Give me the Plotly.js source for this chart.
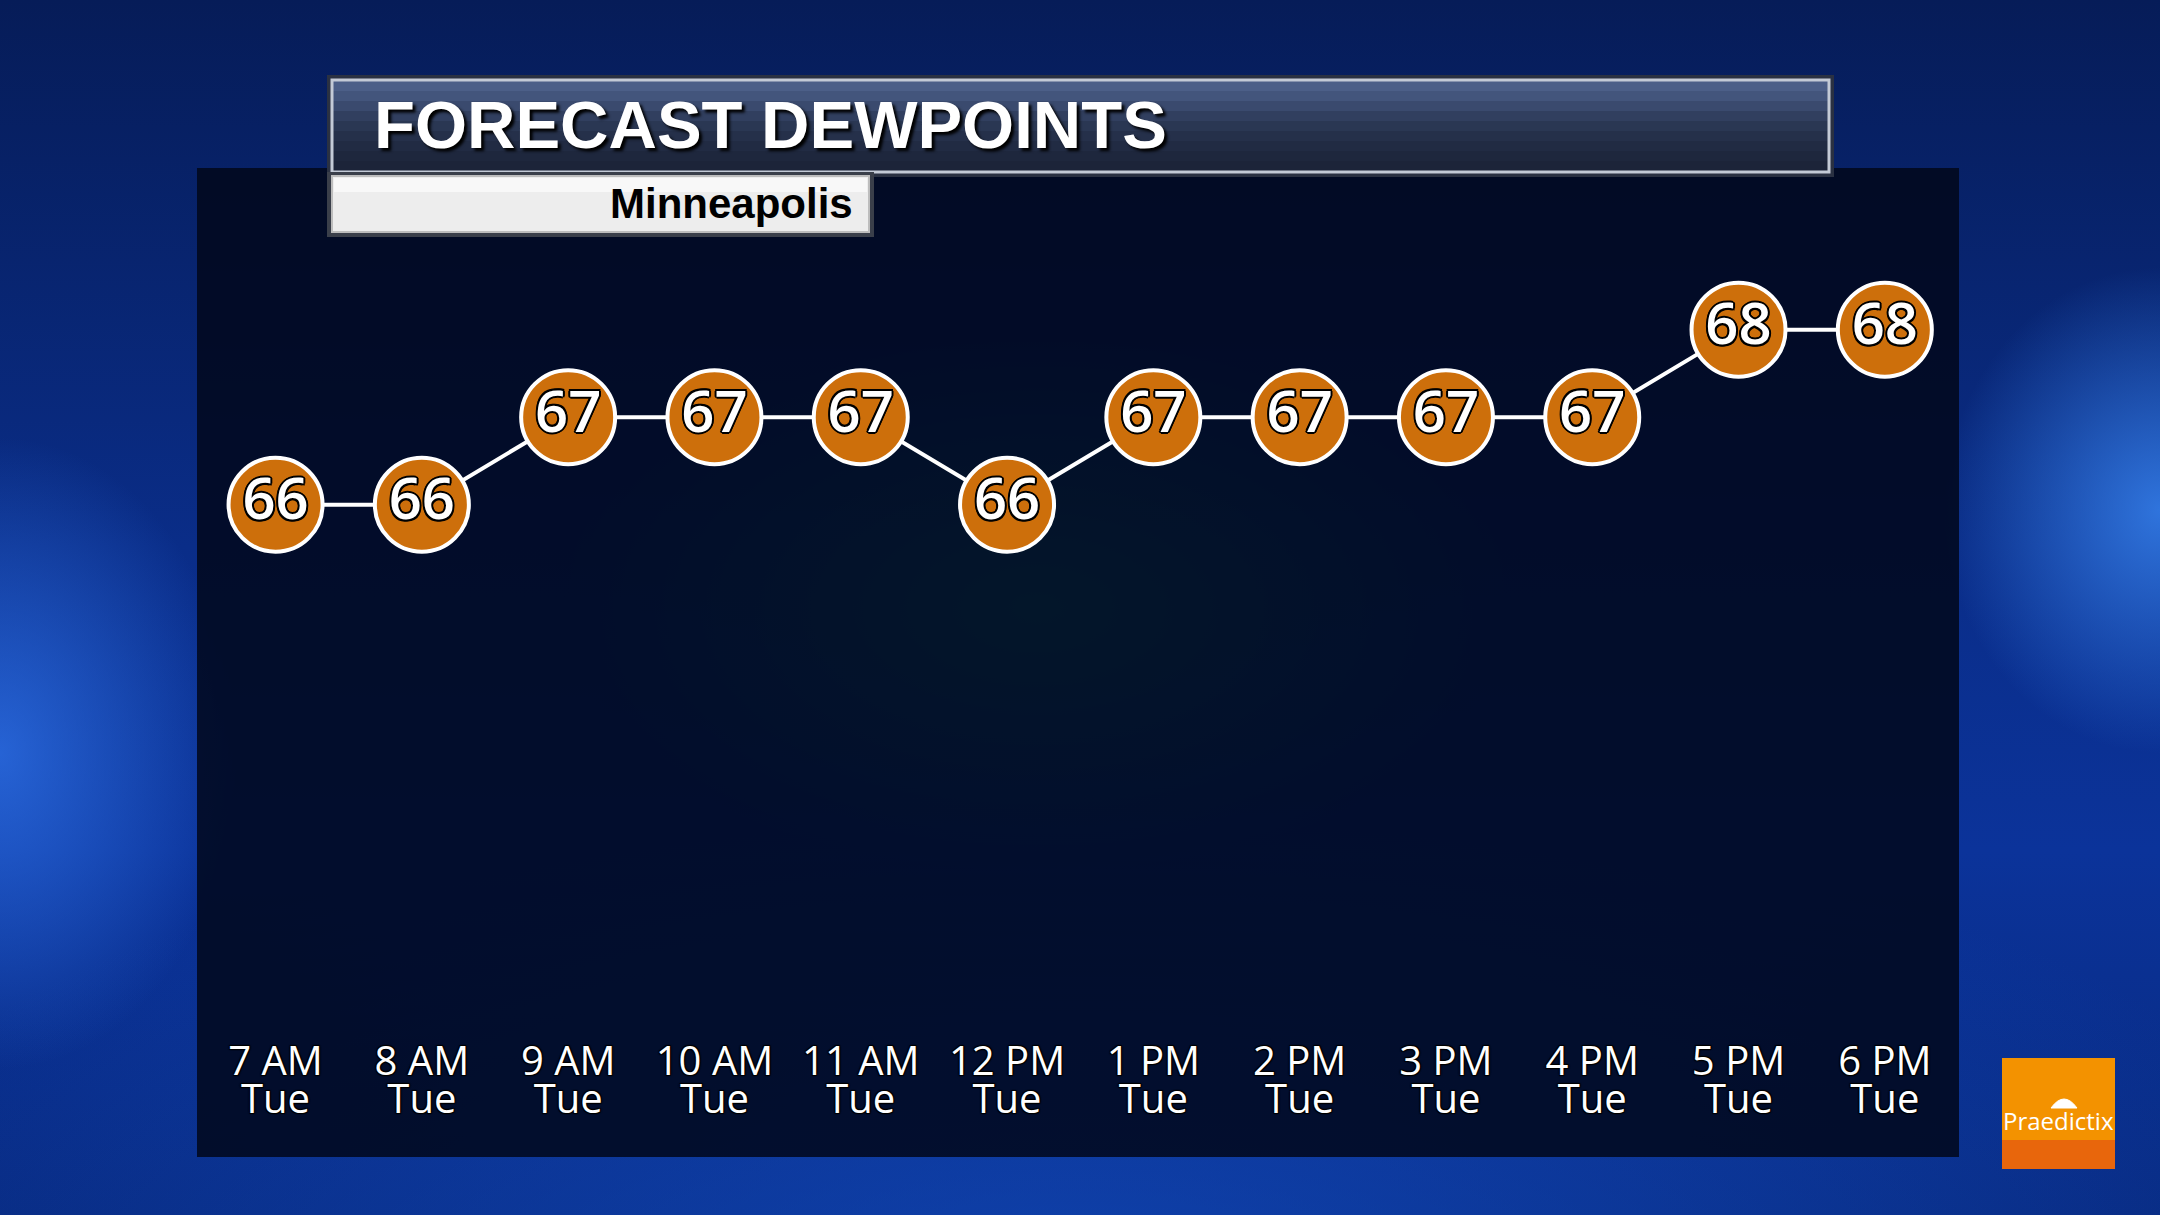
<!DOCTYPE html>
<html>
<head>
<meta charset="utf-8">
<script src="https://cdn.plot.ly/plotly-3.0.1.min.js"></script>
<style>
html,body{margin:0;padding:0;width:2160px;height:1215px;overflow:hidden;}
body{
  background:
    radial-gradient(ellipse 22% 22% at 48% 50%, rgba(20,130,130,0.75), rgba(0,0,0,0) 100%),
    radial-gradient(ellipse 11% 26% at 0% 62%, rgba(50,120,240,0.7), rgba(0,0,0,0) 100%),
    radial-gradient(ellipse 10% 20% at 100% 42%, rgba(60,140,250,0.75), rgba(0,0,0,0) 100%),
    radial-gradient(ellipse 60% 40% at 50% 105%, rgba(20,80,200,0.6), rgba(0,0,0,0) 100%),
    linear-gradient(180deg, #061c58 0%, #0a2d88 45%, #0b339a 70%, #082a80 100%);
}
#chart{width:2160px;height:1215px;}
</style>
</head>
<body>
<div id="chart"></div>
<script>
// ---- data ----
const hours = ['7 AM','8 AM','9 AM','10 AM','11 AM','12 PM','1 PM','2 PM','3 PM','4 PM','5 PM','6 PM'];
const days = ['Tue','Tue','Tue','Tue','Tue','Tue','Tue','Tue','Tue','Tue','Tue','Tue'];
const dewpoints = [66,66,67,67,67,66,67,67,67,67,68,68];
const titleText = 'FORECAST DEWPOINTS';
const subtitleText = 'Minneapolis';
const logoText = 'Praedictix';

// ---- geometry helpers (pixel -> paper) ----
const L = 197, R = 1959, T = 168, B = 1157;
const px = x => (x - L) / (R - L);
const py = y => (B - y) / (B - T);
const idx = hours.map((_, i) => i);
const xr = [-0.537, 11.507];

const outline = '1.5px 1.5px 0 #000, -1.5px -1.5px 0 #000, 1.5px -1.5px 0 #000, -1.5px 1.5px 0 #000, 0 2px 0 #000, 0 -2px 0 #000, 2px 0 0 #000, -2px 0 0 #000';
const thinOutline = '1px 1px 1px #000, -1px -1px 1px #000, 1px -1px 1px #000, -1px 1px 1px #000';

const trace = {
  type: 'scatter',
  x: hours,
  y: dewpoints,
  mode: 'lines+markers+text',
  text: dewpoints.map(String),
  textposition: 'middle center',
  textfont: {family: 'Open Sans', size: 58, color: '#ffffff', weight: 600, shadow: outline},
  line: {color: '#ffffff', width: 4},
  marker: {size: 94, color: '#cd6f0b', line: {color: '#ffffff', width: 4}},
  hoverinfo: 'skip',
  cliponaxis: false
};
// carrier for the second row of tick labels (draws nothing)
const dayTrace = {type: 'scatter', x: idx, y: dewpoints, xaxis: 'x2', mode: 'none', hoverinfo: 'skip', showlegend: false};

function rect(x0, y0, x1, y1, fill, lineColor, lineWidth) {
  return {type: 'rect', xref: 'paper', yref: 'paper',
    x0: px(x0), x1: px(x1), y0: py(y1), y1: py(y0),
    fillcolor: fill, line: {color: lineColor || 'rgba(0,0,0,0)', width: lineWidth || 0}, layer: 'above'};
}

const shapes = [];
// title box
shapes.push(rect(327, 75, 1834, 177, '#2a3142'));
const bands = ['#4c5f88','#43557c','#3a4a6e','#313f5f','#2a3753','#25304a','#212b43','#1e273d','#1c2439'];
const bTop = 81, bBot = 171, bh = (bBot - bTop) / bands.length;
bands.forEach((c, i) => shapes.push(rect(333, bTop + i * bh, 1828, bTop + (i + 1) * bh + 0.6, c)));
shapes.push(rect(332, 80, 1829, 172, 'rgba(0,0,0,0)', '#c3cad6', 3));
// subtitle box
shapes.push(rect(327, 172, 874, 237, '#3a3f4a'));
shapes.push(rect(332, 176, 869, 232, '#ededed', '#bdbdbd', 2));
shapes.push(rect(334, 178, 867, 192, 'rgba(255,255,255,0.6)'));
// logo
shapes.push(rect(2002, 1058, 2115, 1140, '#f39200'));
shapes.push(rect(2002, 1140, 2115, 1169, '#e8660c'));
// umbrella
shapes.push({type: 'path', xref: 'paper', yref: 'paper', layer: 'above',
  path: `M ${px(2051)} ${py(1108)} Q ${px(2064)} ${py(1090)} ${px(2077)} ${py(1108)} Z`,
  fillcolor: '#ffffff', line: {color: '#ffffff', width: 1}});

const annotations = [
  {text: titleText, xref: 'paper', yref: 'paper', x: px(372), y: py(124), xanchor: 'left', yanchor: 'middle',
   showarrow: false, font: {family: 'Liberation Sans', size: 67, color: '#ffffff', weight: 700, shadow: '3px 3px 3px #000'}},
  {text: subtitleText, xref: 'paper', yref: 'paper', x: px(855), y: py(203), xanchor: 'right', yanchor: 'middle',
   showarrow: false, font: {family: 'Liberation Sans', size: 42, color: '#000000', weight: 700}},
  {text: logoText, xref: 'paper', yref: 'paper', x: px(2058), y: py(1120), xanchor: 'center', yanchor: 'middle',
   showarrow: false, font: {family: 'Open Sans', size: 24, color: '#ffffff'}}
];

const tickFont = {family: 'Open Sans', size: 40, color: '#ffffff', shadow: thinOutline};
const layout = {
  width: 2160, height: 1215,
  margin: {l: L, r: 2160 - R, t: T, b: 1215 - B, autoexpand: false},
  paper_bgcolor: 'rgba(0,0,0,0)',
  plot_bgcolor: 'rgba(1,7,26,0.85)',
  showlegend: false,
  xaxis: {type: 'category', range: xr, anchor: 'free', position: py(1034),
    showgrid: false, zeroline: false, showline: false, ticks: '', tickfont: tickFont},
  xaxis2: {type: 'linear', overlaying: 'x', range: xr, anchor: 'free', position: py(1072), side: 'bottom',
    tickmode: 'array', tickvals: idx, ticktext: days,
    showgrid: false, zeroline: false, showline: false, ticks: '', tickfont: tickFont},
  yaxis: {range: [58.547, 69.847], showgrid: false, zeroline: false, showline: false, showticklabels: false, ticks: ''},
  shapes: shapes,
  annotations: annotations
};

Plotly.newPlot('chart', [dayTrace, trace], layout, {staticPlot: true, displayModeBar: false});
</script>
</body>
</html>
